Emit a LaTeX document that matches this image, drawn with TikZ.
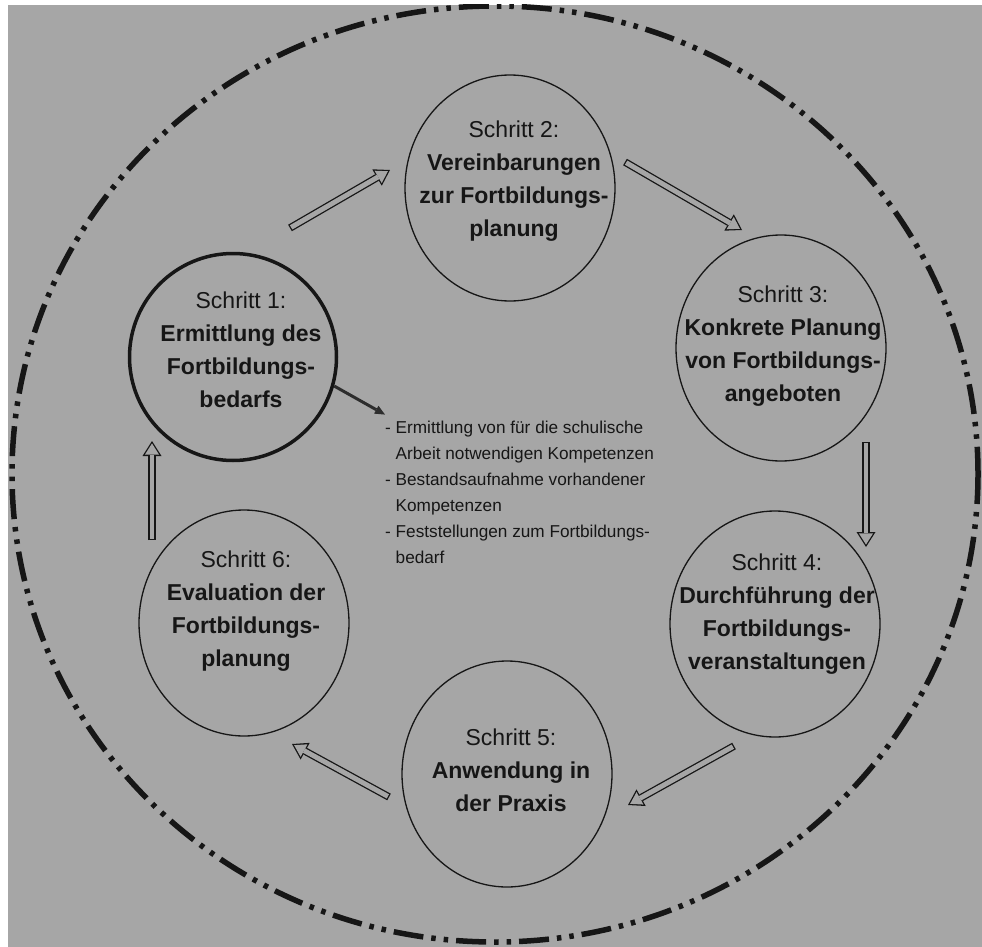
\documentclass[tikz,border=0pt]{standalone}
\usepackage{fontspec}
\setmainfont{Liberation Sans}
\usetikzlibrary{shapes.geometric,arrows.meta,calc}
\definecolor{bggrey}{RGB}{166,166,166}
\definecolor{ink}{RGB}{22,22,22}
\begin{document}
\begin{tikzpicture}[x=1pt,y=-1pt,
  stepcirc/.style={ellipse, draw=ink, line width=1.3pt, minimum width=210pt, minimum height=226pt, inner sep=0pt},
  firstcirc/.style={stepcirc, line width=3.5pt, minimum width=207pt, minimum height=207pt},
  steptext/.style={align=center, text=ink, font=\fontsize{23}{33}\selectfont, inner sep=0pt},
  listtext/.style={anchor=base west, inner sep=0pt, text=ink, font=\fontsize{17.2}{26}\selectfont},
  hout/.style={draw=ink, line width=7.5pt, -{Triangle[width=19pt,length=15pt,line width=0pt]}},
  hin/.style={draw=bggrey, line width=4.9pt, shorten <=1.3pt, shorten >=2.43pt, -{Triangle[width=14.3pt,length=11.3pt,line width=0pt]}},
  darkarrow/.style={draw=ink!90, line width=3pt, -{Triangle[width=9pt,length=10pt,line width=0pt]}},
  outerring/.style={draw=ink, line width=5.5pt, dash pattern=on 30pt off 8pt on 4.5pt off 8pt on 4.5pt off 8pt}
]
\useasboundingbox (0,0) rectangle (982,947);
\fill[white] (0,0) rectangle (982,947);
\fill[bggrey] (8,5) rectangle (982,947);
\begin{scope}
  \clip (8,5) rectangle (982,947);
  \draw[outerring] (495,474) ellipse [x radius=483, y radius=468];
\end{scope}

% step circles
\node[firstcirc] (s1) at (233,357) {};
\node[stepcirc] (s2) at (510,188) {};
\node[stepcirc] (s3) at (781,348) {};
\node[stepcirc] (s4) at (775,624) {};
\node[stepcirc] (s5) at (507,774) {};
\node[stepcirc] (s6) at (244,623) {};

% texts
\node[steptext] (t1) at (241,350) {Schritt 1:\\\textbf{Ermittlung des}\\\textbf{Fortbildungs-}\\\textbf{bedarfs}};
\node[steptext] (t2) at (514,181) {Schritt 2:\\\textbf{Vereinbarungen}\\\textbf{zur Fortbildungs-}\\\textbf{planung}};
\node[steptext] (t3) at (783,346) {Schritt 3:\\\textbf{Konkrete Planung}\\\textbf{von Fortbildungs-}\\\textbf{angeboten}};
\node[steptext] (t4) at (777,614) {Schritt 4:\\\textbf{Durchführung der}\\\textbf{Fortbildungs-}\\\textbf{veranstaltungen}};
\node[steptext] (t5) at (511,770) {Schritt 5:\\\textbf{Anwendung in}\\\textbf{der Praxis}};
\node[steptext] (t6) at (246,611) {Schritt 6:\\\textbf{Evaluation der}\\\textbf{Fortbildungs-}\\\textbf{planung}};

% bullet list
\node[listtext] (list) at (385,433) {\begin{tabular}[t]{@{}l@{\ }l@{}}
- & Ermittlung von für die schulische\\
  & Arbeit notwendigen Kompetenzen\\
- & Bestandsaufnahme vorhandener\\
  & Kompetenzen\\
- & Feststellungen zum Fortbildungs-\\
  & bedarf
\end{tabular}};

% arrow ends
\coordinate (a1) at (290,228); \coordinate (b1) at (390,170);
\coordinate (a2) at (625,162); \coordinate (b2) at (742,230);
\coordinate (a3) at (866,442); \coordinate (b3) at (866,547);
\coordinate (a4) at (734,746); \coordinate (b4) at (628,805);
\coordinate (a5) at (389,797); \coordinate (b5) at (292,744);
\coordinate (a6) at (152,540); \coordinate (b6) at (152,441);

\foreach \i in {1,...,6}{
  \draw[hout] (a\i) -- (b\i);
  \draw[hin] (a\i) -- (b\i);
}

\draw[darkarrow] (s1.-16) -- (list.north west);
\end{tikzpicture}
\end{document}
